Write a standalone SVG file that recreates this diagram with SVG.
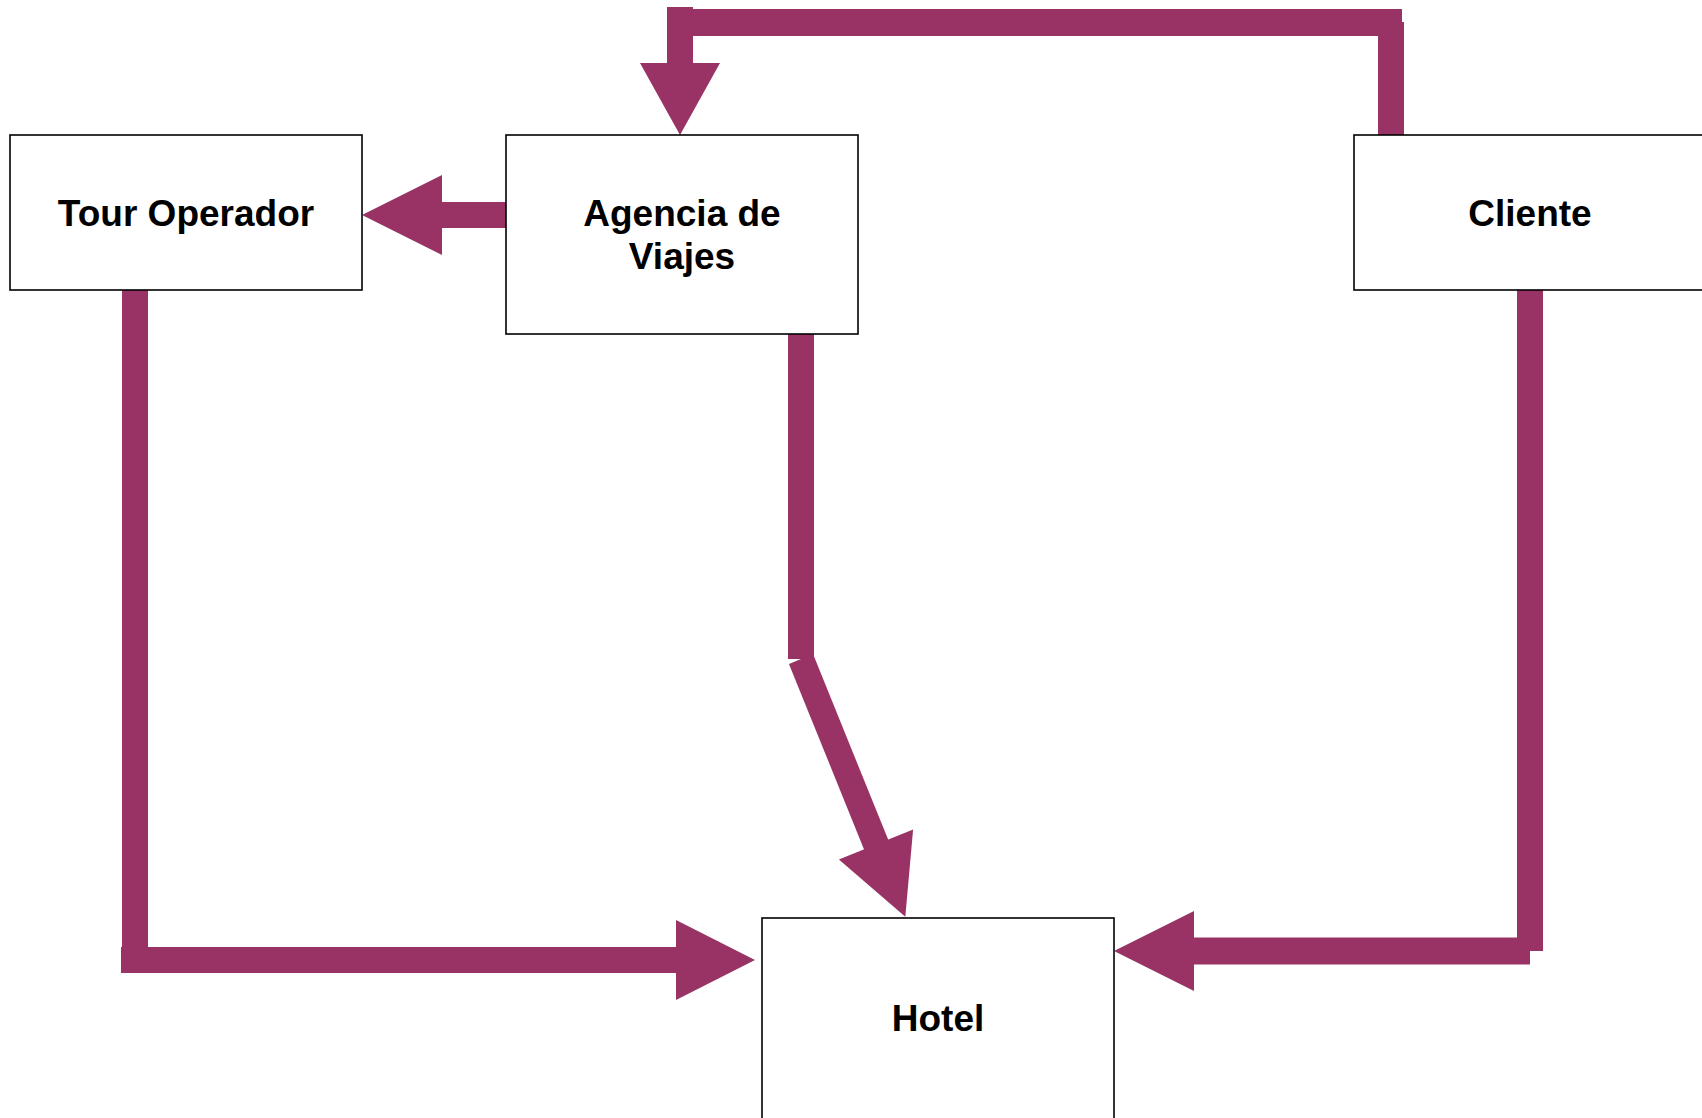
<svg xmlns="http://www.w3.org/2000/svg" width="1702" height="1118" viewBox="0 0 1702 1118">
<style>
.box{fill:#fff;stroke:#000;stroke-width:1.6}
.lbl{font-family:"Liberation Sans",Arial,sans-serif;font-weight:bold;font-size:37px;fill:#000;text-anchor:middle}
.c line{stroke:#993366;stroke-width:26;stroke-linecap:butt;fill:none}
.c polygon{fill:#993366}
</style>
<rect width="1702" height="1118" fill="#fff"/>
<g id="connectors" class="c">
<g id="e-cliente-agencia">
<line x1="680" y1="7" x2="680" y2="64"/>
<line x1="680" y1="22.5" x2="1402" y2="22.5" style="stroke-width:27"/>
<line x1="1391" y1="22" x2="1391" y2="135"/>
<polygon points="640,63 720,63 680,135"/>
</g>
<g id="e-agencia-tour">
<line x1="506" y1="215" x2="441" y2="215"/>
<polygon points="442,175 442,255 362,215"/>
</g>
<g id="e-tour-hotel">
<line x1="135" y1="290" x2="135" y2="960"/>
<line x1="121" y1="960" x2="677" y2="960"/>
<polygon points="676,920 676,1000 755,960"/>
</g>
<g id="e-agencia-hotel">
<line x1="801" y1="334" x2="801" y2="659"/>
<line x1="801" y1="659" x2="876.5" y2="845.5"/>
<polygon points="838.9,859.5 913.1,829.5 905.3,916.8"/>
</g>
<g id="e-cliente-hotel">
<line x1="1530" y1="290" x2="1530" y2="951"/>
<line x1="1530" y1="951" x2="1193" y2="951" style="stroke-width:27"/>
<polygon points="1194,911 1194,991 1114,951"/>
</g>
</g>
<g id="n-tour">
<rect class="box" x="10" y="135" width="352" height="155"/>
<text class="lbl" x="186" y="226">Tour Operador</text>
</g>
<g id="n-agencia">
<rect class="box" x="506" y="135" width="352" height="199"/>
<text class="lbl" x="682" y="226">Agencia de</text>
<text class="lbl" x="682" y="269">Viajes</text>
</g>
<g id="n-cliente">
<rect class="box" x="1354" y="135" width="352" height="155"/>
<text class="lbl" x="1530" y="226">Cliente</text>
</g>
<g id="n-hotel">
<rect class="box" x="762" y="918" width="352" height="205"/>
<text class="lbl" x="938" y="1031">Hotel</text>
</g>
</svg>
